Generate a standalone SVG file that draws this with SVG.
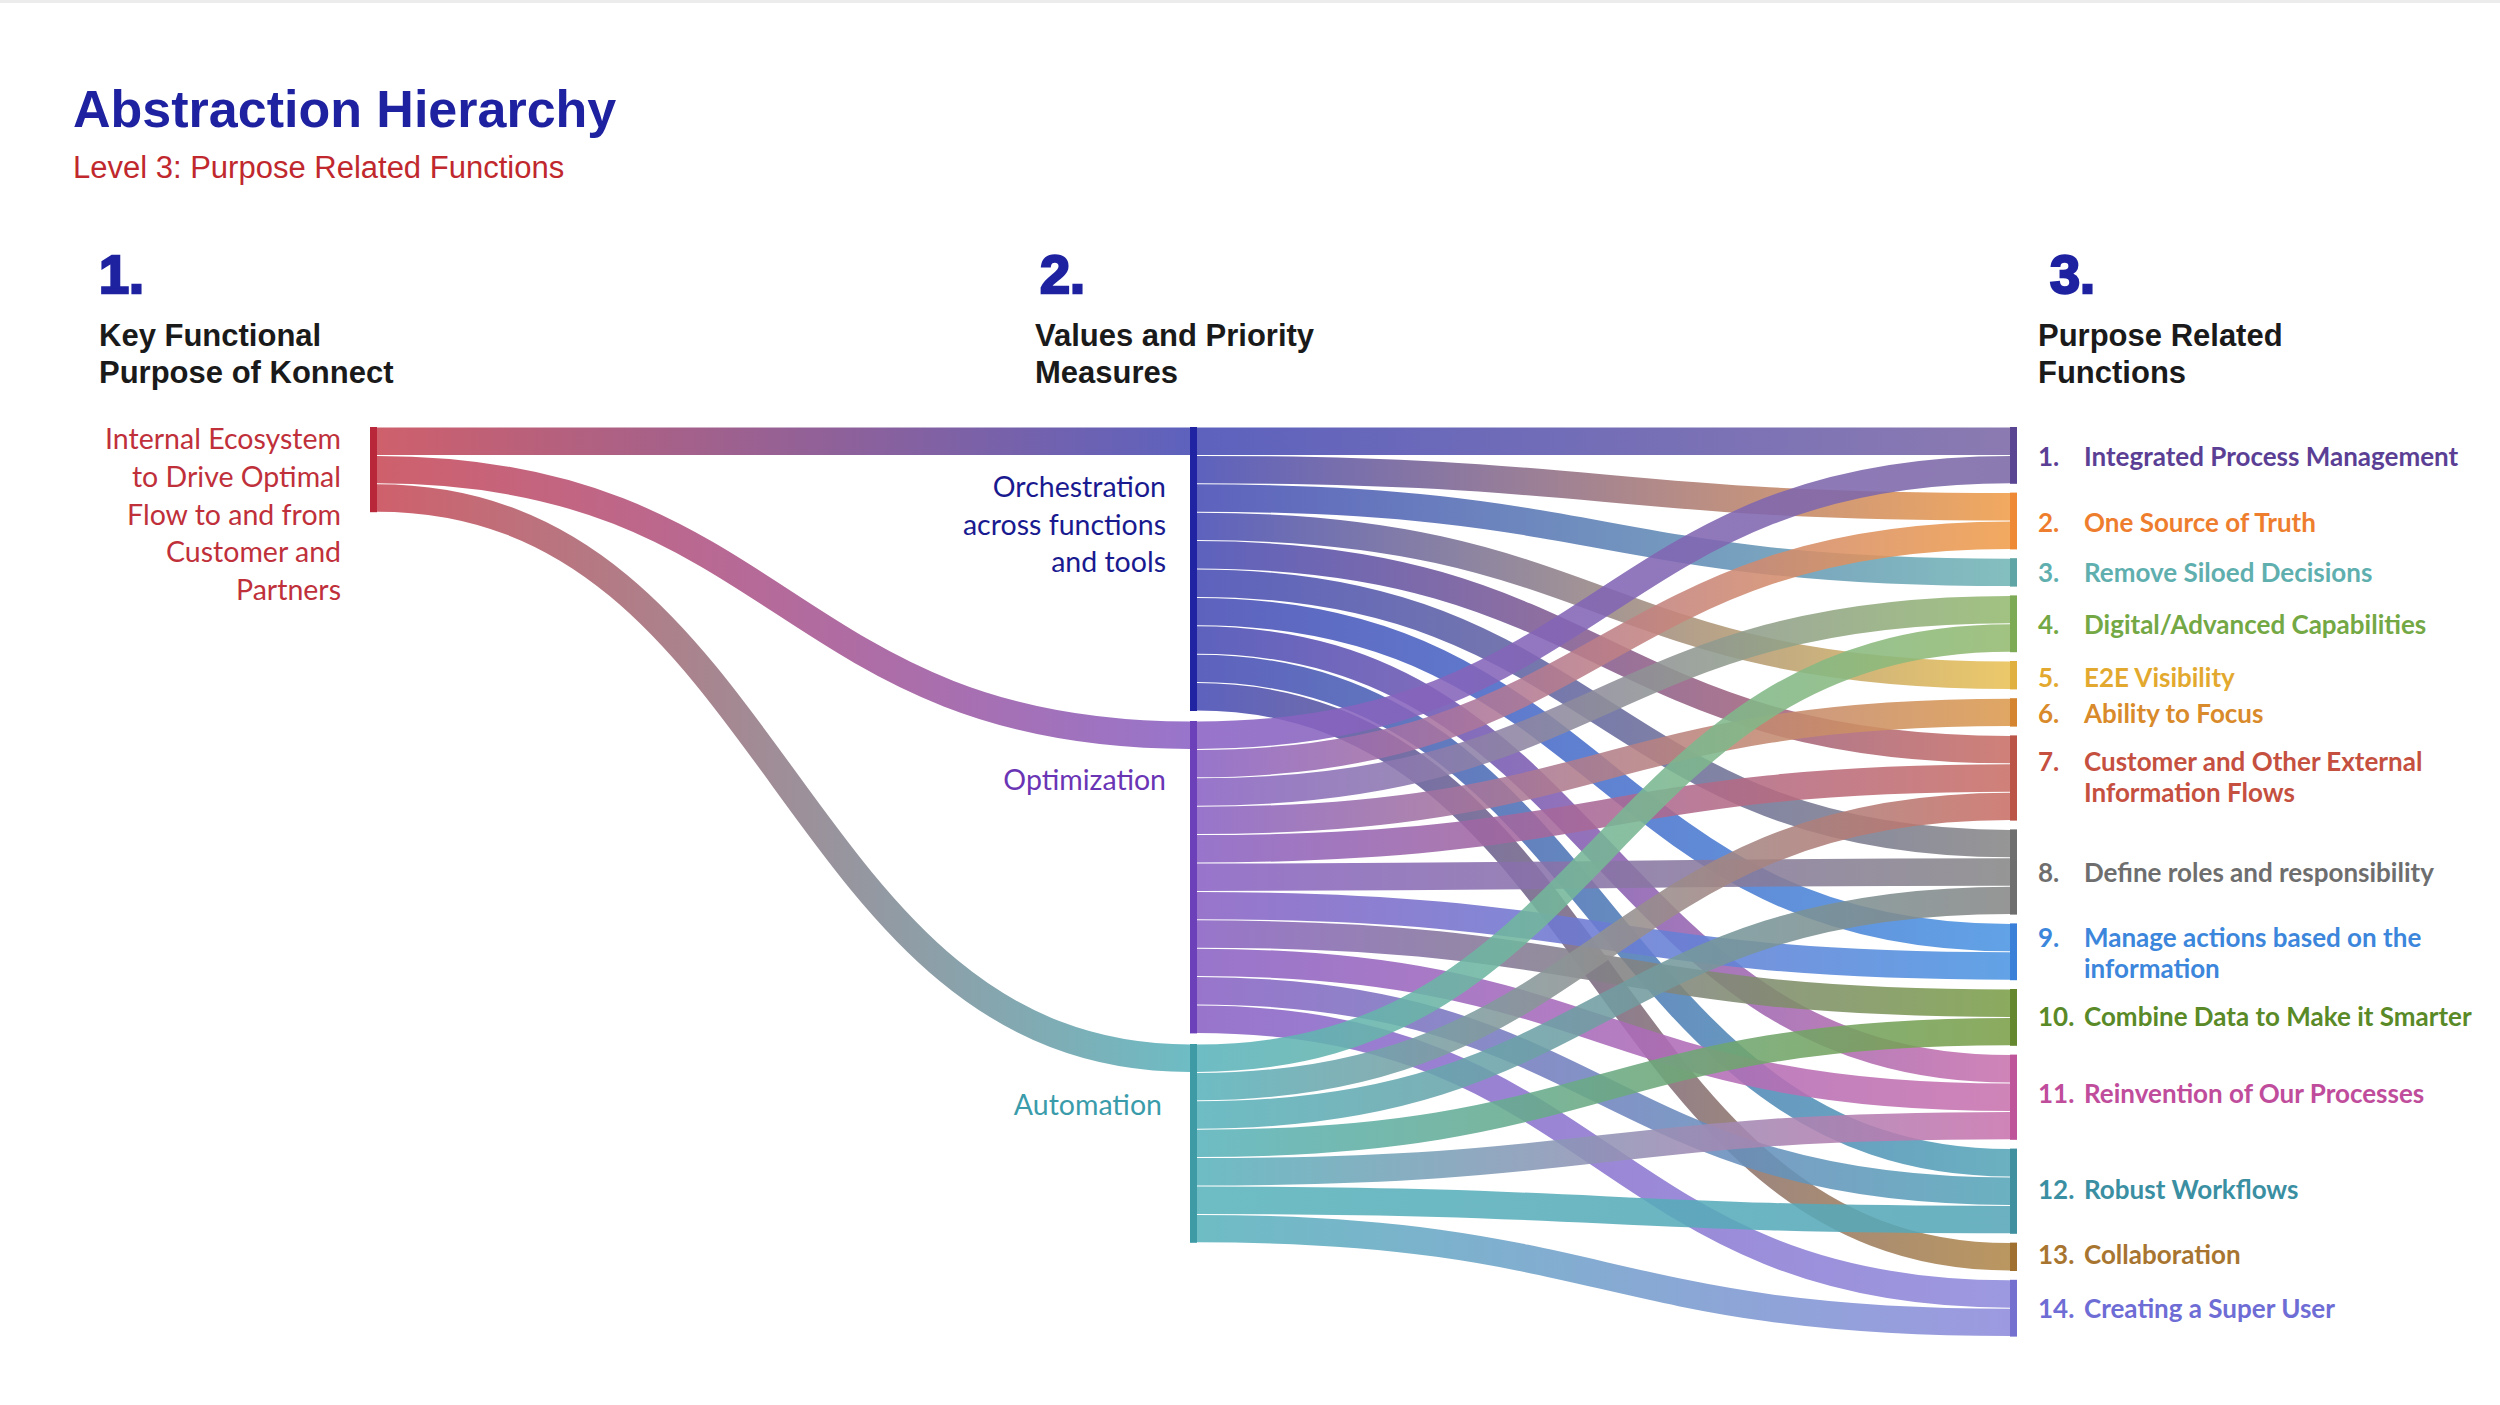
<svg xmlns="http://www.w3.org/2000/svg" width="2500" height="1405" viewBox="0 0 2500 1405">
<style>
.hdr{font-family:"Liberation Sans",Arial,sans-serif;}
.ttl{font-size:52px;font-weight:bold;fill:#1E22A0;}
.sub{font-size:31px;fill:#C0282D;}
.num{font-size:54px;font-weight:bold;fill:#1E22A0;stroke:#1E22A0;stroke-width:2.5;}
.col{font-size:31px;font-weight:bold;fill:#1A1A1A;}
.lbl{font-family:Lato,"Open Sans",sans-serif;font-size:28.5px;}
.rl{font-family:Lato,"Open Sans",sans-serif;font-size:26px;font-weight:bold;}
.lk{fill:none;stroke-width:27.4;stroke-opacity:0.88;}
</style>
<defs>
<linearGradient id="gLO" gradientUnits="userSpaceOnUse" x1="377" y1="0" x2="1190" y2="0"><stop offset="0" stop-color="#C84A57"/><stop offset="1" stop-color="#474CB4"/></linearGradient>
<linearGradient id="gLP" gradientUnits="userSpaceOnUse" x1="377" y1="0" x2="1190" y2="0"><stop offset="0" stop-color="#C84A57"/><stop offset="1" stop-color="#8A62C4"/></linearGradient>
<linearGradient id="gLA" gradientUnits="userSpaceOnUse" x1="377" y1="0" x2="1190" y2="0"><stop offset="0" stop-color="#C84A57"/><stop offset="1" stop-color="#5AB3BC"/></linearGradient>
<linearGradient id="gO1" gradientUnits="userSpaceOnUse" x1="1197" y1="0" x2="2010" y2="0"><stop offset="0" stop-color="#474CB4"/><stop offset="1" stop-color="#7B68A6"/></linearGradient>
<linearGradient id="gO2" gradientUnits="userSpaceOnUse" x1="1197" y1="0" x2="2010" y2="0"><stop offset="0" stop-color="#474CB4"/><stop offset="1" stop-color="#F09D4A"/></linearGradient>
<linearGradient id="gO3" gradientUnits="userSpaceOnUse" x1="1197" y1="0" x2="2010" y2="0"><stop offset="0" stop-color="#474CB4"/><stop offset="1" stop-color="#73B6B6"/></linearGradient>
<linearGradient id="gO5" gradientUnits="userSpaceOnUse" x1="1197" y1="0" x2="2010" y2="0"><stop offset="0" stop-color="#474CB4"/><stop offset="1" stop-color="#E9C155"/></linearGradient>
<linearGradient id="gO7" gradientUnits="userSpaceOnUse" x1="1197" y1="0" x2="2010" y2="0"><stop offset="0" stop-color="#474CB4"/><stop offset="1" stop-color="#C96F66"/></linearGradient>
<linearGradient id="gO8" gradientUnits="userSpaceOnUse" x1="1197" y1="0" x2="2010" y2="0"><stop offset="0" stop-color="#474CB4"/><stop offset="1" stop-color="#878787"/></linearGradient>
<linearGradient id="gO9" gradientUnits="userSpaceOnUse" x1="1197" y1="0" x2="2010" y2="0"><stop offset="0" stop-color="#474CB4"/><stop offset="1" stop-color="#4C95E2"/></linearGradient>
<linearGradient id="gO11" gradientUnits="userSpaceOnUse" x1="1197" y1="0" x2="2010" y2="0"><stop offset="0" stop-color="#474CB4"/><stop offset="1" stop-color="#C973AE"/></linearGradient>
<linearGradient id="gO12" gradientUnits="userSpaceOnUse" x1="1197" y1="0" x2="2010" y2="0"><stop offset="0" stop-color="#474CB4"/><stop offset="1" stop-color="#56A6B8"/></linearGradient>
<linearGradient id="gO13" gradientUnits="userSpaceOnUse" x1="1197" y1="0" x2="2010" y2="0"><stop offset="0" stop-color="#474CB4"/><stop offset="1" stop-color="#B1884A"/></linearGradient>
<linearGradient id="gP1" gradientUnits="userSpaceOnUse" x1="1197" y1="0" x2="2010" y2="0"><stop offset="0" stop-color="#8A62C4"/><stop offset="1" stop-color="#7B68A6"/></linearGradient>
<linearGradient id="gP2" gradientUnits="userSpaceOnUse" x1="1197" y1="0" x2="2010" y2="0"><stop offset="0" stop-color="#8A62C4"/><stop offset="1" stop-color="#F09D4A"/></linearGradient>
<linearGradient id="gP4" gradientUnits="userSpaceOnUse" x1="1197" y1="0" x2="2010" y2="0"><stop offset="0" stop-color="#8A62C4"/><stop offset="1" stop-color="#94BA70"/></linearGradient>
<linearGradient id="gP6" gradientUnits="userSpaceOnUse" x1="1197" y1="0" x2="2010" y2="0"><stop offset="0" stop-color="#8A62C4"/><stop offset="1" stop-color="#DB9A4E"/></linearGradient>
<linearGradient id="gP7" gradientUnits="userSpaceOnUse" x1="1197" y1="0" x2="2010" y2="0"><stop offset="0" stop-color="#8A62C4"/><stop offset="1" stop-color="#C96F66"/></linearGradient>
<linearGradient id="gP8" gradientUnits="userSpaceOnUse" x1="1197" y1="0" x2="2010" y2="0"><stop offset="0" stop-color="#8A62C4"/><stop offset="1" stop-color="#878787"/></linearGradient>
<linearGradient id="gP9" gradientUnits="userSpaceOnUse" x1="1197" y1="0" x2="2010" y2="0"><stop offset="0" stop-color="#8A62C4"/><stop offset="1" stop-color="#4C95E2"/></linearGradient>
<linearGradient id="gP10" gradientUnits="userSpaceOnUse" x1="1197" y1="0" x2="2010" y2="0"><stop offset="0" stop-color="#8A62C4"/><stop offset="1" stop-color="#7B9F48"/></linearGradient>
<linearGradient id="gP11" gradientUnits="userSpaceOnUse" x1="1197" y1="0" x2="2010" y2="0"><stop offset="0" stop-color="#8A62C4"/><stop offset="1" stop-color="#C973AE"/></linearGradient>
<linearGradient id="gP12" gradientUnits="userSpaceOnUse" x1="1197" y1="0" x2="2010" y2="0"><stop offset="0" stop-color="#8A62C4"/><stop offset="1" stop-color="#56A6B8"/></linearGradient>
<linearGradient id="gP14" gradientUnits="userSpaceOnUse" x1="1197" y1="0" x2="2010" y2="0"><stop offset="0" stop-color="#8A62C4"/><stop offset="1" stop-color="#8F8BDC"/></linearGradient>
<linearGradient id="gA4" gradientUnits="userSpaceOnUse" x1="1197" y1="0" x2="2010" y2="0"><stop offset="0" stop-color="#5AB3BC"/><stop offset="1" stop-color="#94BA70"/></linearGradient>
<linearGradient id="gA7" gradientUnits="userSpaceOnUse" x1="1197" y1="0" x2="2010" y2="0"><stop offset="0" stop-color="#5AB3BC"/><stop offset="1" stop-color="#C96F66"/></linearGradient>
<linearGradient id="gA8" gradientUnits="userSpaceOnUse" x1="1197" y1="0" x2="2010" y2="0"><stop offset="0" stop-color="#5AB3BC"/><stop offset="1" stop-color="#878787"/></linearGradient>
<linearGradient id="gA10" gradientUnits="userSpaceOnUse" x1="1197" y1="0" x2="2010" y2="0"><stop offset="0" stop-color="#5AB3BC"/><stop offset="1" stop-color="#7B9F48"/></linearGradient>
<linearGradient id="gA11" gradientUnits="userSpaceOnUse" x1="1197" y1="0" x2="2010" y2="0"><stop offset="0" stop-color="#5AB3BC"/><stop offset="1" stop-color="#C973AE"/></linearGradient>
<linearGradient id="gA12" gradientUnits="userSpaceOnUse" x1="1197" y1="0" x2="2010" y2="0"><stop offset="0" stop-color="#5AB3BC"/><stop offset="1" stop-color="#56A6B8"/></linearGradient>
<linearGradient id="gA14" gradientUnits="userSpaceOnUse" x1="1197" y1="0" x2="2010" y2="0"><stop offset="0" stop-color="#5AB3BC"/><stop offset="1" stop-color="#8F8BDC"/></linearGradient>
</defs>
<rect x="0" y="0" width="2500" height="1405" fill="#FFFFFF"/>
<rect x="0" y="0" width="2500" height="3" fill="#ECECEC"/>

<g id="header" class="hdr">
<text class="ttl" x="73" y="127">Abstraction Hierarchy</text>
<text class="sub" x="73" y="178">Level 3: Purpose Related Functions</text>
<text class="num" x="99" y="293">1.</text>
<text class="col" x="99" y="346">Key Functional</text>
<text class="col" x="99" y="383">Purpose of Konnect</text>
<text class="num" x="1040" y="293">2.</text>
<text class="col" x="1035" y="346">Values and Priority</text>
<text class="col" x="1035" y="383">Measures</text>
<text class="num" x="2050" y="293">3.</text>
<text class="col" x="2038" y="346">Purpose Related</text>
<text class="col" x="2038" y="383">Functions</text>
</g>

<g id="links">
<path class="lk" stroke="url(#gLO)" d="M377 441.2 C783.5 441.2 783.5 441.2 1190 441.2"/>
<path class="lk" stroke="url(#gLP)" d="M377 469.6 C783.5 469.6 783.5 735.2 1190 735.2"/>
<path class="lk" stroke="url(#gLA)" d="M377 498 C783.5 498 783.5 1058.2 1190 1058.2"/>
<path class="lk" stroke="url(#gO1)" d="M1197 441.2 C1603.5 441.2 1603.5 441.2 2010 441.2"/>
<path class="lk" stroke="url(#gO2)" d="M1197 469.6 C1603.5 469.6 1603.5 506.8 2010 506.8"/>
<path class="lk" stroke="url(#gO3)" d="M1197 498 C1603.5 498 1603.5 572.4 2010 572.4"/>
<path class="lk" stroke="url(#gO5)" d="M1197 526.4 C1603.5 526.4 1603.5 675.2 2010 675.2"/>
<path class="lk" stroke="url(#gO7)" d="M1197 554.8 C1603.5 554.8 1603.5 749.6 2010 749.6"/>
<path class="lk" stroke="url(#gO8)" d="M1197 583.2 C1603.5 583.2 1603.5 843.6 2010 843.6"/>
<path class="lk" stroke="url(#gO9)" d="M1197 611.6 C1603.5 611.6 1603.5 937.6 2010 937.6"/>
<path class="lk" stroke="url(#gO11)" d="M1197 640 C1603.5 640 1603.5 1068.8 2010 1068.8"/>
<path class="lk" stroke="url(#gO12)" d="M1197 668.4 C1603.5 668.4 1603.5 1162.8 2010 1162.8"/>
<path class="lk" stroke="url(#gO13)" d="M1197 696.8 C1603.5 696.8 1603.5 1256.8 2010 1256.8"/>
<path class="lk" stroke="url(#gP1)" d="M1197 735.2 C1603.5 735.2 1603.5 469.6 2010 469.6"/>
<path class="lk" stroke="url(#gP2)" d="M1197 763.6 C1603.5 763.6 1603.5 535.2 2010 535.2"/>
<path class="lk" stroke="url(#gP4)" d="M1197 792 C1603.5 792 1603.5 609.6 2010 609.6"/>
<path class="lk" stroke="url(#gP6)" d="M1197 820.4 C1603.5 820.4 1603.5 712.4 2010 712.4"/>
<path class="lk" stroke="url(#gP7)" d="M1197 848.8 C1603.5 848.8 1603.5 778 2010 778"/>
<path class="lk" stroke="url(#gP8)" d="M1197 877.2 C1603.5 877.2 1603.5 872 2010 872"/>
<path class="lk" stroke="url(#gP9)" d="M1197 905.6 C1603.5 905.6 1603.5 966 2010 966"/>
<path class="lk" stroke="url(#gP10)" d="M1197 934 C1603.5 934 1603.5 1003.2 2010 1003.2"/>
<path class="lk" stroke="url(#gP11)" d="M1197 962.4 C1603.5 962.4 1603.5 1097.2 2010 1097.2"/>
<path class="lk" stroke="url(#gP12)" d="M1197 990.8 C1603.5 990.8 1603.5 1191.2 2010 1191.2"/>
<path class="lk" stroke="url(#gP14)" d="M1197 1019.2 C1603.5 1019.2 1603.5 1294 2010 1294"/>
<path class="lk" stroke="url(#gA4)" d="M1197 1058.2 C1603.5 1058.2 1603.5 638 2010 638"/>
<path class="lk" stroke="url(#gA7)" d="M1197 1086.6 C1603.5 1086.6 1603.5 806.4 2010 806.4"/>
<path class="lk" stroke="url(#gA8)" d="M1197 1115 C1603.5 1115 1603.5 900.4 2010 900.4"/>
<path class="lk" stroke="url(#gA10)" d="M1197 1143.4 C1603.5 1143.4 1603.5 1031.6 2010 1031.6"/>
<path class="lk" stroke="url(#gA11)" d="M1197 1171.8 C1603.5 1171.8 1603.5 1125.6 2010 1125.6"/>
<path class="lk" stroke="url(#gA12)" d="M1197 1200.2 C1603.5 1200.2 1603.5 1219.6 2010 1219.6"/>
<path class="lk" stroke="url(#gA14)" d="M1197 1228.6 C1603.5 1228.6 1603.5 1322.4 2010 1322.4"/>
</g>

<g id="node-internal">
<rect x="370" y="427" width="7" height="85.2" fill="#B8283A"/>
<text class="lbl" fill="#C0303A" text-anchor="end"><tspan x="341" y="449">Internal Ecosystem</tspan><tspan x="341" y="487">to Drive Optimal</tspan><tspan x="341" y="525">Flow to and from</tspan><tspan x="341" y="562">Customer and</tspan><tspan x="341" y="600">Partners</tspan></text>
</g>
<g id="node-orchestration">
<rect x="1190" y="427" width="7" height="284" fill="#2024A2"/>
<text class="lbl" fill="#1A1A90" text-anchor="end"><tspan x="1166" y="497">Orchestration</tspan><tspan x="1166" y="535">across functions</tspan><tspan x="1166" y="572">and tools</tspan></text>
</g>
<g id="node-optimization">
<rect x="1190" y="721" width="7" height="312.4" fill="#6B40B8"/>
<text class="lbl" fill="#6A35B5" text-anchor="end" x="1166" y="790">Optimization</text>
</g>
<g id="node-automation">
<rect x="1190" y="1044" width="7" height="198.8" fill="#3E9AA5"/>
<text class="lbl" fill="#3A9CAA" text-anchor="end" x="1162" y="1115">Automation</text>
</g>

<g id="node-r1"><rect x="2010" y="427" width="7" height="56.8" fill="#5A4592"/><text class="rl" fill="#5B3F95"><tspan x="2038" y="466">1.</tspan><tspan x="2084" y="466">Integrated Process Management</tspan></text></g>
<g id="node-r2"><rect x="2010" y="492.6" width="7" height="56.8" fill="#EE8A35"/><text class="rl" fill="#EE7E2E"><tspan x="2038" y="532">2.</tspan><tspan x="2084" y="532">One Source of Truth</tspan></text></g>
<g id="node-r3"><rect x="2010" y="558.2" width="7" height="28.4" fill="#5FA5A5"/><text class="rl" fill="#5FAFAF"><tspan x="2038" y="582">3.</tspan><tspan x="2084" y="582">Remove Siloed Decisions</tspan></text></g>
<g id="node-r4"><rect x="2010" y="595.4" width="7" height="56.8" fill="#7DAA55"/><text class="rl" fill="#74A845"><tspan x="2038" y="634">4.</tspan><tspan x="2084" y="634">Digital/Advanced Capabilities</tspan></text></g>
<g id="node-r5"><rect x="2010" y="661" width="7" height="28.4" fill="#E0B040"/><text class="rl" fill="#E3A92F"><tspan x="2038" y="687">5.</tspan><tspan x="2084" y="687">E2E Visibility</tspan></text></g>
<g id="node-r6"><rect x="2010" y="698.2" width="7" height="28.4" fill="#D5842F"/><text class="rl" fill="#D98A2A"><tspan x="2038" y="723">6.</tspan><tspan x="2084" y="723">Ability to Focus</tspan></text></g>
<g id="node-r7"><rect x="2010" y="735.4" width="7" height="85.2" fill="#BA5548"/><text class="rl" fill="#C5503F"><tspan x="2038" y="771">7.</tspan><tspan x="2084" y="771">Customer and Other External</tspan><tspan x="2084" y="802">Information Flows</tspan></text></g>
<g id="node-r8"><rect x="2010" y="829.4" width="7" height="85.2" fill="#6E6E6E"/><text class="rl" fill="#6E6E6E"><tspan x="2038" y="882">8.</tspan><tspan x="2084" y="882">Define roles and responsibility</tspan></text></g>
<g id="node-r9"><rect x="2010" y="923.4" width="7" height="56.8" fill="#3A80D8"/><text class="rl" fill="#3C86DC"><tspan x="2038" y="947">9.</tspan><tspan x="2084" y="947">Manage actions based on the</tspan><tspan x="2084" y="978">information</tspan></text></g>
<g id="node-r10"><rect x="2010" y="989" width="7" height="56.8" fill="#65882E"/><text class="rl" fill="#5A8A27"><tspan x="2038" y="1026">10.</tspan><tspan x="2084" y="1026">Combine Data to Make it Smarter</tspan></text></g>
<g id="node-r11"><rect x="2010" y="1054.6" width="7" height="85.2" fill="#BE559A"/><text class="rl" fill="#C04C9C"><tspan x="2038" y="1103">11.</tspan><tspan x="2084" y="1103">Reinvention of Our Processes</tspan></text></g>
<g id="node-r12"><rect x="2010" y="1148.6" width="7" height="85.2" fill="#4090A0"/><text class="rl" fill="#3A8FA2"><tspan x="2038" y="1199">12.</tspan><tspan x="2084" y="1199">Robust Workflows</tspan></text></g>
<g id="node-r13"><rect x="2010" y="1242.6" width="7" height="28.4" fill="#A07030"/><text class="rl" fill="#A87530"><tspan x="2038" y="1264">13.</tspan><tspan x="2084" y="1264">Collaboration</tspan></text></g>
<g id="node-r14"><rect x="2010" y="1279.8" width="7" height="56.8" fill="#7370D0"/><text class="rl" fill="#6E6CD5"><tspan x="2038" y="1318">14.</tspan><tspan x="2084" y="1318">Creating a Super User</tspan></text></g>
</svg>
